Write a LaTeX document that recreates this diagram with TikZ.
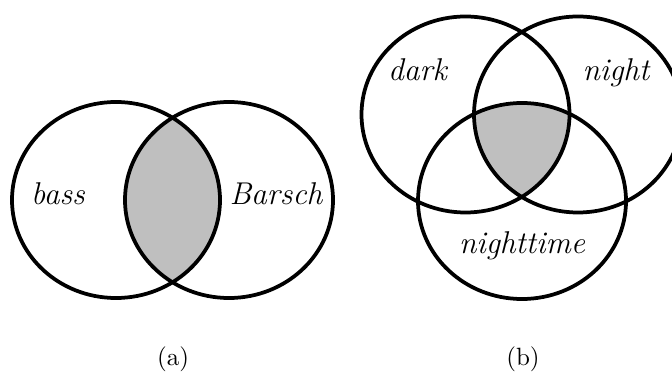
\documentclass[tikz,border=0pt]{standalone}
\begin{document}
\begin{tikzpicture}[x=0.4pt,y=-0.4pt,
  setline/.style={line width=1.5pt},
  setfill/.style={fill=black!25},
  setlabel/.style={anchor=base,inner sep=0pt,font=\fontsize{12.6}{15}\selectfont\itshape},
  subcap/.style={anchor=base,inner sep=0pt,font=\fontsize{10}{12}\selectfont}]
\useasboundingbox (0,0) rectangle (672,372);
\clip (0,0) rectangle (672,372);
% (a) two sets
\begin{scope}
  \clip (116,200) ellipse [x radius=104, y radius=98];
  \fill[setfill] (229,200) ellipse [x radius=104, y radius=98];
\end{scope}
\draw[setline] (116,200) ellipse [x radius=104, y radius=98];
\draw[setline] (229,200) ellipse [x radius=104, y radius=98];
\node[setlabel] (bass) at (58,205) {bass};
\node[setlabel] (barsch) at (276,205) {Barsch};
\node[subcap] (capa) at (173,365) {(a)};
% (b) three sets
\begin{scope}
  \clip (465.5,114.5) ellipse [x radius=104, y radius=98];
  \clip (578,114.5) ellipse [x radius=104, y radius=98];
  \fill[setfill] (522,201) ellipse [x radius=104, y radius=98];
\end{scope}
\draw[setline] (465.5,114.5) ellipse [x radius=104, y radius=98];
\draw[setline] (578,114.5) ellipse [x radius=104, y radius=98];
\draw[setline] (522,201) ellipse [x radius=104, y radius=98];
\node[setlabel] (dark) at (417.5,81) {dark};
\node[setlabel] (night) at (616,81) {night};
\node[setlabel] (nighttime) at (522,253.5) {nighttime};
\node[subcap] (capb) at (523,365) {(b)};
\end{tikzpicture}
\end{document}
